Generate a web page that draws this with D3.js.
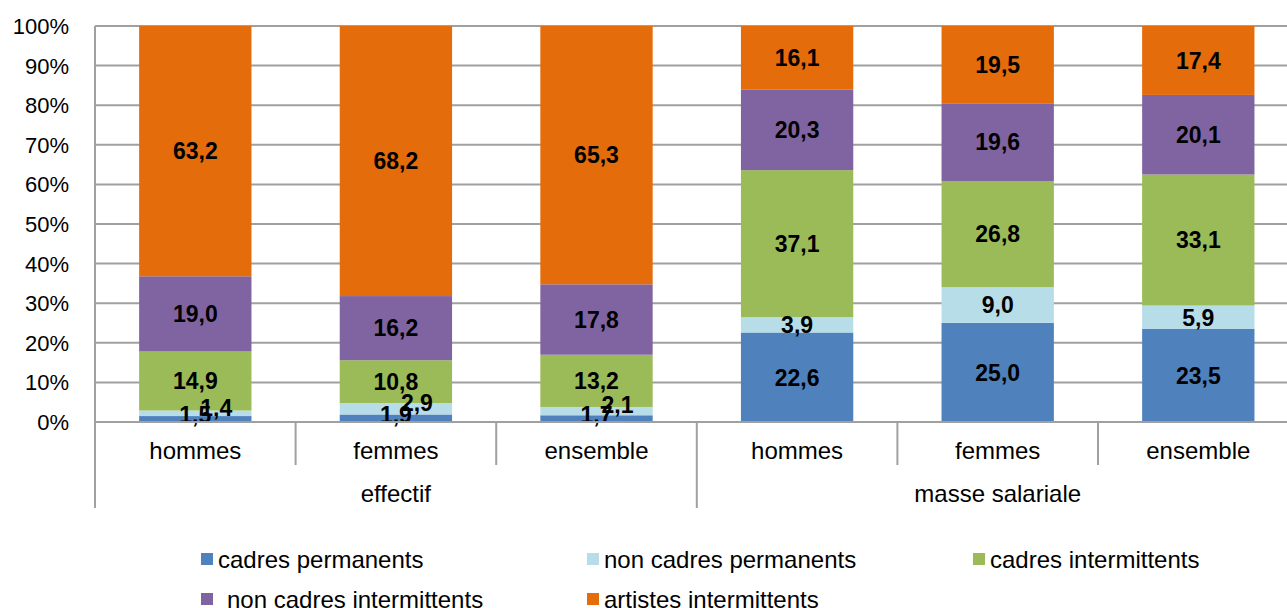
<!DOCTYPE html>
<html>
<head>
<meta charset="utf-8">
<script src="https://cdn.jsdelivr.net/npm/d3@7"></script>
<style>
  body { margin: 0; background: #fff; }
  svg { display: block; font-family: "Liberation Sans", Arial, sans-serif; }
</style>
</head>
<body>
<svg width="1287" height="608"></svg>
<script>
var groups = ["effectif", "masse salariale"];
var categories = ["hommes", "femmes", "ensemble", "hommes", "femmes", "ensemble"];
var series = ["cadres permanents", "non cadres permanents", "cadres intermittents", "non cadres intermittents", "artistes intermittents"];
var colors = ["#4f81bd", "#b7dde8", "#9bbb59", "#8064a2", "#e46c0a"];

// one array per series, in the order of categories
var cadresPermanents = [1.5, 1.9, 1.7, 22.6, 25.0, 23.5];
var nonCadresPermanents = [1.4, 2.9, 2.1, 3.9, 9.0, 5.9];
var cadresIntermittents = [14.9, 10.8, 13.2, 37.1, 26.8, 33.1];
var nonCadresIntermittents = [19.0, 16.2, 17.8, 20.3, 19.6, 20.1];
var artistesIntermittents = [63.2, 68.2, 65.3, 16.1, 19.5, 17.4];

var yTicks = [0, 0.1, 0.2, 0.3, 0.4, 0.5, 0.6, 0.7, 0.8, 0.9, 1];

var values = [cadresPermanents, nonCadresPermanents, cadresIntermittents, nonCadresIntermittents, artistesIntermittents];

var svg = d3.select("svg");
var plotLeft = 95, plotTop = 26, plotBottom = 422, step = 200.6;

var rows = categories.map(function(c, i) {
  var r = { key: i, label: c };
  series.forEach(function(s, j) { r[s] = values[j][i]; });
  return r;
});

var stack = d3.stack().keys(series).offset(d3.stackOffsetExpand);
var layers = stack(rows);

var x = d3.scaleBand()
  .domain(rows.map(function(d) { return d.key; }))
  .range([plotLeft, plotLeft + step * categories.length])
  .paddingInner(0.44)
  .paddingOuter(0.22);

var xGroup = d3.scaleBand()
  .domain(groups)
  .range([plotLeft, plotLeft + step * categories.length]);

var y = d3.scaleLinear().domain([0, 1]).range([plotBottom, plotTop]);

// gridlines
svg.append("g")
  .selectAll("line")
  .data(yTicks)
  .enter().append("line")
  .attr("x1", plotLeft)
  .attr("x2", 1287)
  .attr("y1", function(d) { return y(d); })
  .attr("y2", function(d) { return y(d); })
  .attr("stroke", "#a0a0a0")
  .attr("stroke-width", 2);

// y axis labels
svg.append("g")
  .selectAll("text")
  .data(yTicks)
  .enter().append("text")
  .attr("x", 69)
  .attr("y", function(d) { return y(d); })
  .attr("dy", "0.36em")
  .attr("text-anchor", "end")
  .style("font-size", "22px")
  .attr("fill", "#000")
  .text(d3.format(".0%"));

// bars
var layer = svg.append("g")
  .selectAll("g")
  .data(layers)
  .enter().append("g")
  .attr("fill", function(d, i) { return colors[i]; });

layer.selectAll("rect")
  .data(function(d) { return d; })
  .enter().append("rect")
  .attr("x", function(d) { return x(d.data.key); })
  .attr("width", x.bandwidth())
  .attr("y", function(d) { return y(d[1]); })
  .attr("height", function(d) { return y(d[0]) - y(d[1]); });

// value labels; the thin slices of the first group are nudged like the original
layers.forEach(function(l, j) {
  svg.append("g")
    .selectAll("text")
    .data(l)
    .enter().append("text")
    .attr("x", function(d) {
      var cx = x(d.data.key) + x.bandwidth() / 2;
      if (j == 1 && d.data[series[j]] < 3) cx += 21;
      return cx;
    })
    .attr("y", function(d) {
      var cy = (y(d[0]) + y(d[1])) / 2;
      if (j == 0 && d.data[series[j]] < 3) cy -= 4;
      if (j == 1 && d.data[series[j]] < 3) cy -= 6;
      return cy;
    })
    .attr("dy", "0.36em")
    .attr("text-anchor", "middle")
    .style("font-size", "23px")
    .style("font-weight", "bold")
    .attr("fill", "#000")
    .text(function(d) { return d3.format(".1f")(d.data[series[j]]).replace(".", ","); });
});

// category axis
var axis = svg.append("g");
axis.append("line")
  .attr("x1", plotLeft).attr("x2", 1287)
  .attr("y1", plotBottom).attr("y2", plotBottom)
  .attr("stroke", "#a0a0a0").attr("stroke-width", 2);

axis.append("line")
  .attr("x1", plotLeft).attr("x2", plotLeft)
  .attr("y1", plotTop).attr("y2", 508)
  .attr("stroke", "#a0a0a0").attr("stroke-width", 2);

axis.selectAll(".tick")
  .data(rows.slice(1))
  .enter().append("line")
  .attr("x1", function(d) { return x(d.key) - x.step() * x.paddingOuter(); })
  .attr("x2", function(d) { return x(d.key) - x.step() * x.paddingOuter(); })
  .attr("y1", plotBottom)
  .attr("y2", function(d, i) { return (i + 1) % 3 == 0 ? 508 : 465; })
  .attr("stroke", "#a0a0a0").attr("stroke-width", 2);

axis.selectAll(".cat")
  .data(rows)
  .enter().append("text")
  .attr("x", function(d) { return x(d.key) + x.bandwidth() / 2; })
  .attr("y", 459)
  .attr("text-anchor", "middle")
  .style("font-size", "24px")
  .attr("fill", "#000")
  .text(function(d) { return d.label; });

axis.selectAll(".grp")
  .data(groups)
  .enter().append("text")
  .attr("x", function(d) { return xGroup(d) + xGroup.bandwidth() / 2; })
  .attr("y", 502)
  .attr("text-anchor", "middle")
  .style("font-size", "24px")
  .attr("fill", "#000")
  .text(function(d) { return d; });

// legend
var legendPos = [[201, 559], [587, 559], [973, 559], [201, 599], [587, 599]];
var legend = svg.append("g")
  .selectAll("g")
  .data(series)
  .enter().append("g")
  .attr("transform", function(d, i) { return "translate(" + legendPos[i][0] + "," + legendPos[i][1] + ")"; });

legend.append("rect")
  .attr("x", 0).attr("y", -6)
  .attr("width", 12).attr("height", 12)
  .attr("fill", function(d, i) { return colors[i]; });

legend.append("text")
  .attr("x", function(d, i) { return i == 3 ? 26 : 17; })
  .attr("dy", "0.36em")
  .style("font-size", "24px")
  .attr("fill", "#000")
  .text(function(d) { return d; });
</script>
</body>
</html>
